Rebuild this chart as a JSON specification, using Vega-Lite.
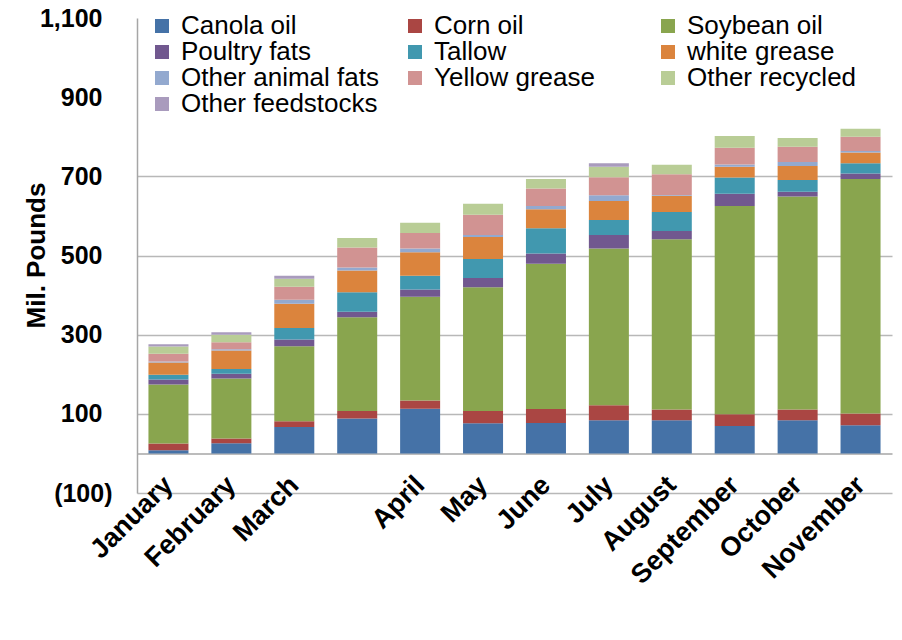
{
  "$schema": "https://vega.github.io/schema/vega-lite/v6.json",
  "autosize": {"type": "none"},
  "padding": {"left": 137, "top": 18, "right": 10, "bottom": 147},
  "width": 755,
  "height": 475,
  "background": "white",
  "config": {"font": "Liberation Sans", "view": {"stroke": null}},
  "datasets": {
    "stackorder": [
      {"feedstock": "Canola oil", "rank": 1},
      {"feedstock": "Corn oil", "rank": 2},
      {"feedstock": "Soybean oil", "rank": 3},
      {"feedstock": "Poultry fats", "rank": 4},
      {"feedstock": "Tallow", "rank": 5},
      {"feedstock": "white grease", "rank": 6},
      {"feedstock": "Other animal fats", "rank": 7},
      {"feedstock": "Yellow grease", "rank": 8},
      {"feedstock": "Other recycled", "rank": 9},
      {"feedstock": "Other feedstocks", "rank": 10}
    ]
  },
  "data": {
    "values": [
      {"month": "January", "feedstock": "Canola oil", "value": 8},
      {"month": "January", "feedstock": "Corn oil", "value": 17},
      {"month": "January", "feedstock": "Soybean oil", "value": 149},
      {"month": "January", "feedstock": "Poultry fats", "value": 13},
      {"month": "January", "feedstock": "Tallow", "value": 12},
      {"month": "January", "feedstock": "white grease", "value": 31},
      {"month": "January", "feedstock": "Other animal fats", "value": 2},
      {"month": "January", "feedstock": "Yellow grease", "value": 20},
      {"month": "January", "feedstock": "Other recycled", "value": 18},
      {"month": "January", "feedstock": "Other feedstocks", "value": 6},

      {"month": "February", "feedstock": "Canola oil", "value": 26},
      {"month": "February", "feedstock": "Corn oil", "value": 12},
      {"month": "February", "feedstock": "Soybean oil", "value": 151},
      {"month": "February", "feedstock": "Poultry fats", "value": 12},
      {"month": "February", "feedstock": "Tallow", "value": 12},
      {"month": "February", "feedstock": "white grease", "value": 47},
      {"month": "February", "feedstock": "Other animal fats", "value": 3},
      {"month": "February", "feedstock": "Yellow grease", "value": 18},
      {"month": "February", "feedstock": "Other recycled", "value": 19},
      {"month": "February", "feedstock": "Other feedstocks", "value": 6},

      {"month": "March", "feedstock": "Canola oil", "value": 67},
      {"month": "March", "feedstock": "Corn oil", "value": 14},
      {"month": "March", "feedstock": "Soybean oil", "value": 190},
      {"month": "March", "feedstock": "Poultry fats", "value": 17},
      {"month": "March", "feedstock": "Tallow", "value": 29},
      {"month": "March", "feedstock": "white grease", "value": 61},
      {"month": "March", "feedstock": "Other animal fats", "value": 10},
      {"month": "March", "feedstock": "Yellow grease", "value": 33},
      {"month": "March", "feedstock": "Other recycled", "value": 20},
      {"month": "March", "feedstock": "Other feedstocks", "value": 8},

      {"month": "", "feedstock": "Canola oil", "value": 88},
      {"month": "", "feedstock": "Corn oil", "value": 19},
      {"month": "", "feedstock": "Soybean oil", "value": 237},
      {"month": "", "feedstock": "Poultry fats", "value": 14},
      {"month": "", "feedstock": "Tallow", "value": 49},
      {"month": "", "feedstock": "white grease", "value": 55},
      {"month": "", "feedstock": "Other animal fats", "value": 8},
      {"month": "", "feedstock": "Yellow grease", "value": 50},
      {"month": "", "feedstock": "Other recycled", "value": 24},

      {"month": "April", "feedstock": "Canola oil", "value": 113},
      {"month": "April", "feedstock": "Corn oil", "value": 21},
      {"month": "April", "feedstock": "Soybean oil", "value": 262},
      {"month": "April", "feedstock": "Poultry fats", "value": 18},
      {"month": "April", "feedstock": "Tallow", "value": 35},
      {"month": "April", "feedstock": "white grease", "value": 59},
      {"month": "April", "feedstock": "Other animal fats", "value": 10},
      {"month": "April", "feedstock": "Yellow grease", "value": 39},
      {"month": "April", "feedstock": "Other recycled", "value": 26},

      {"month": "May", "feedstock": "Canola oil", "value": 76},
      {"month": "May", "feedstock": "Corn oil", "value": 31},
      {"month": "May", "feedstock": "Soybean oil", "value": 313},
      {"month": "May", "feedstock": "Poultry fats", "value": 23},
      {"month": "May", "feedstock": "Tallow", "value": 48},
      {"month": "May", "feedstock": "white grease", "value": 56},
      {"month": "May", "feedstock": "Other animal fats", "value": 5},
      {"month": "May", "feedstock": "Yellow grease", "value": 51},
      {"month": "May", "feedstock": "Other recycled", "value": 28},

      {"month": "June", "feedstock": "Canola oil", "value": 77},
      {"month": "June", "feedstock": "Corn oil", "value": 35},
      {"month": "June", "feedstock": "Soybean oil", "value": 367},
      {"month": "June", "feedstock": "Poultry fats", "value": 26},
      {"month": "June", "feedstock": "Tallow", "value": 64},
      {"month": "June", "feedstock": "white grease", "value": 48},
      {"month": "June", "feedstock": "Other animal fats", "value": 8},
      {"month": "June", "feedstock": "Yellow grease", "value": 44},
      {"month": "June", "feedstock": "Other recycled", "value": 24},

      {"month": "July", "feedstock": "Canola oil", "value": 84},
      {"month": "July", "feedstock": "Corn oil", "value": 38},
      {"month": "July", "feedstock": "Soybean oil", "value": 396},
      {"month": "July", "feedstock": "Poultry fats", "value": 34},
      {"month": "July", "feedstock": "Tallow", "value": 38},
      {"month": "July", "feedstock": "white grease", "value": 48},
      {"month": "July", "feedstock": "Other animal fats", "value": 14},
      {"month": "July", "feedstock": "Yellow grease", "value": 46},
      {"month": "July", "feedstock": "Other recycled", "value": 26},
      {"month": "July", "feedstock": "Other feedstocks", "value": 9},

      {"month": "August", "feedstock": "Canola oil", "value": 84},
      {"month": "August", "feedstock": "Corn oil", "value": 27},
      {"month": "August", "feedstock": "Soybean oil", "value": 430},
      {"month": "August", "feedstock": "Poultry fats", "value": 21},
      {"month": "August", "feedstock": "Tallow", "value": 48},
      {"month": "August", "feedstock": "white grease", "value": 41},
      {"month": "August", "feedstock": "Other animal fats", "value": 2},
      {"month": "August", "feedstock": "Yellow grease", "value": 52},
      {"month": "August", "feedstock": "Other recycled", "value": 24},

      {"month": "September", "feedstock": "Canola oil", "value": 69},
      {"month": "September", "feedstock": "Corn oil", "value": 30},
      {"month": "September", "feedstock": "Soybean oil", "value": 526},
      {"month": "September", "feedstock": "Poultry fats", "value": 31},
      {"month": "September", "feedstock": "Tallow", "value": 41},
      {"month": "September", "feedstock": "white grease", "value": 27},
      {"month": "September", "feedstock": "Other animal fats", "value": 6},
      {"month": "September", "feedstock": "Yellow grease", "value": 42},
      {"month": "September", "feedstock": "Other recycled", "value": 30},

      {"month": "October", "feedstock": "Canola oil", "value": 84},
      {"month": "October", "feedstock": "Corn oil", "value": 27},
      {"month": "October", "feedstock": "Soybean oil", "value": 538},
      {"month": "October", "feedstock": "Poultry fats", "value": 12},
      {"month": "October", "feedstock": "Tallow", "value": 30},
      {"month": "October", "feedstock": "white grease", "value": 35},
      {"month": "October", "feedstock": "Other animal fats", "value": 10},
      {"month": "October", "feedstock": "Yellow grease", "value": 39},
      {"month": "October", "feedstock": "Other recycled", "value": 22},

      {"month": "November", "feedstock": "Canola oil", "value": 71},
      {"month": "November", "feedstock": "Corn oil", "value": 30},
      {"month": "November", "feedstock": "Soybean oil", "value": 592},
      {"month": "November", "feedstock": "Poultry fats", "value": 14},
      {"month": "November", "feedstock": "Tallow", "value": 26},
      {"month": "November", "feedstock": "white grease", "value": 27},
      {"month": "November", "feedstock": "Other animal fats", "value": 4},
      {"month": "November", "feedstock": "Yellow grease", "value": 36},
      {"month": "November", "feedstock": "Other recycled", "value": 20}
    ]
  },
  "transform": [
    {
      "lookup": "feedstock",
      "from": {"data": {"name": "stackorder"}, "key": "feedstock", "fields": ["rank"]}
    }
  ],
  "mark": {"type": "bar"},
  "encoding": {
    "x": {
      "field": "month",
      "type": "nominal",
      "sort": ["January", "February", "March", "", "April", "May", "June", "July", "August", "September", "October", "November"],
      "scale": {"paddingInner": 0.364, "paddingOuter": 0.182},
      "axis": {
        "title": null,
        "offset": -39.6,
        "domainColor": "#a6a6a6",
        "domainWidth": 1.5,
        "ticks": false,
        "grid": false,
        "labelAngle": -45,
        "labelAlign": "right",
        "labelBaseline": "top",
        "labelFontSize": 27,
        "labelFontWeight": "bold",
        "labelColor": "#000000",
        "labelPadding": 18,
        "labelOffset": -9,
        "labelOverlap": false,
        "labelLimit": 300
      }
    },
    "y": {
      "field": "value",
      "type": "quantitative",
      "stack": "zero",
      "scale": {"domain": [-100, 1100], "nice": false},
      "axis": {
        "values": [-100, 100, 300, 500, 700, 900, 1100],
        "labelExpr": "datum.value < 0 ? '(' + format(-datum.value, ',') + ')' : format(datum.value, ',')",
        "labelFontSize": 25,
        "labelFontWeight": "bold",
        "labelColor": "#000000",
        "labelPadding": {"condition": {"test": "datum.value < 0", "value": 25}, "value": 35},
        "ticks": false,
        "tickSize": 0,
        "domainColor": "#a6a6a6",
        "domainWidth": 1.5,
        "grid": true,
        "gridColor": "#b8b8b8",
        "gridWidth": 1.5,
        "gridOpacity": {"condition": {"test": "datum.value >= 900", "value": 0}, "value": 1},
        "title": "Mil. Pounds",
        "titleFontSize": 26,
        "titleFontWeight": "bold",
        "titleColor": "#000000",
        "titleAngle": 270,
        "titleAlign": "center",
        "titleBaseline": "bottom",
        "titleX": -88,
        "titleY": 237
      }
    },
    "color": {
      "field": "feedstock",
      "type": "nominal",
      "scale": {
        "domain": ["Canola oil", "Poultry fats", "Other animal fats", "Other recycled", "Corn oil", "Tallow", "Yellow grease", "Other feedstocks", "Soybean oil", "white grease"],
        "range": ["#4572A7", "#71588F", "#93A9CF", "#B9CD96", "#AA4643", "#4198AF", "#D19392", "#A99BBD", "#89A54E", "#DB843D"]
      },
      "legend": {
        "title": null,
        "orient": "none",
        "direction": "vertical",
        "legendX": 4,
        "legendY": -13,
        "columns": 3,
        "gridAlign": "all",
        "columnPadding": 23,
        "rowPadding": 0,
        "symbolType": "square",
        "symbolSize": 196,
        "symbolStrokeWidth": 0,
        "symbolOpacity": 1,
        "labelFontSize": 26,
        "labelColor": "#000000",
        "labelOffset": 6,
        "labelLimit": 400,
        "fillColor": "white",
        "padding": 8
      }
    },
    "order": {"field": "rank", "type": "quantitative"}
  }
}
